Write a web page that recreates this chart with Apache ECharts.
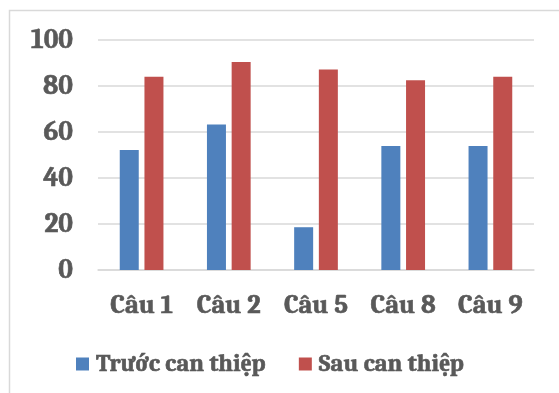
<!DOCTYPE html>
<html>
<head>
<meta charset="utf-8">
<script src="https://cdn.jsdelivr.net/npm/echarts@6/dist/echarts.min.js"></script>
<style>
  html, body { margin: 0; padding: 0; background: #fff; }
  #chart { width: 559px; height: 393px; }
</style>
</head>
<body>
<div id="chart"></div>
<script>
// Questions surveyed and the share of correct answers (%)
const categories = ['Câu 1', 'Câu 2', 'Câu 5', 'Câu 8', 'Câu 9'];
const seriesNames = ['Trước can thiệp', 'Sau can thiệp'];
const before = [52.2, 63.3, 18.6, 53.9, 53.9];
const after = [84.0, 90.4, 87.2, 82.5, 84.0];
const colors = ['#4F81BD', '#C0504D'];

const font = 'Cambria, "Liberation Serif", serif';
const textColor = '#595959';
// slight outline to give the labels a heavier stroke
const heavy = { textBorderColor: textColor, textBorderWidth: 0.6 };

const chart = echarts.init(document.getElementById('chart'), null, { renderer: 'canvas' });
chart.setOption({
  animation: false,
  backgroundColor: '#ffffff',
  color: colors,
  graphic: [{
    type: 'rect',
    shape: { x: 9.5, y: 10.5, width: 600, height: 450 },
    style: { fill: 'none', stroke: '#d9d9d9', lineWidth: 1.5 },
    silent: true
  }],
  grid: { left: 98, right: 25, top: 40, bottom: 123, containLabel: false },
  legend: {
    left: 71,
    top: 344,
    itemWidth: 13,
    itemHeight: 13,
    itemGap: 33,
    icon: 'rect',
    textStyle: Object.assign({
      fontFamily: font, fontWeight: 'bold', fontSize: 24.5,
      color: textColor, lineHeight: 30, padding: [0, 0, 0, 2]
    }, heavy),
    data: seriesNames
  },
  xAxis: {
    type: 'category',
    data: categories,
    axisLine: { lineStyle: { color: '#d9d9d9', width: 1.5 } },
    axisTick: { show: false },
    axisLabel: Object.assign({
      fontFamily: font, fontWeight: 'bold', fontSize: 26.5,
      color: textColor, margin: 22
    }, heavy)
  },
  yAxis: {
    type: 'value',
    min: 0, max: 100, interval: 20,
    axisLine: { show: false },
    axisTick: { show: false },
    splitLine: { lineStyle: { color: '#d9d9d9', width: 1.5 } },
    axisLabel: Object.assign({
      fontFamily: font, fontWeight: 'bold', fontSize: 27.5,
      color: textColor, margin: 25
    }, heavy)
  },
  series: [
    { name: seriesNames[0], type: 'bar', data: before, barWidth: 19, barGap: '30%' },
    { name: seriesNames[1], type: 'bar', data: after, barWidth: 19, barGap: '30%' }
  ]
});
</script>
</body>
</html>
